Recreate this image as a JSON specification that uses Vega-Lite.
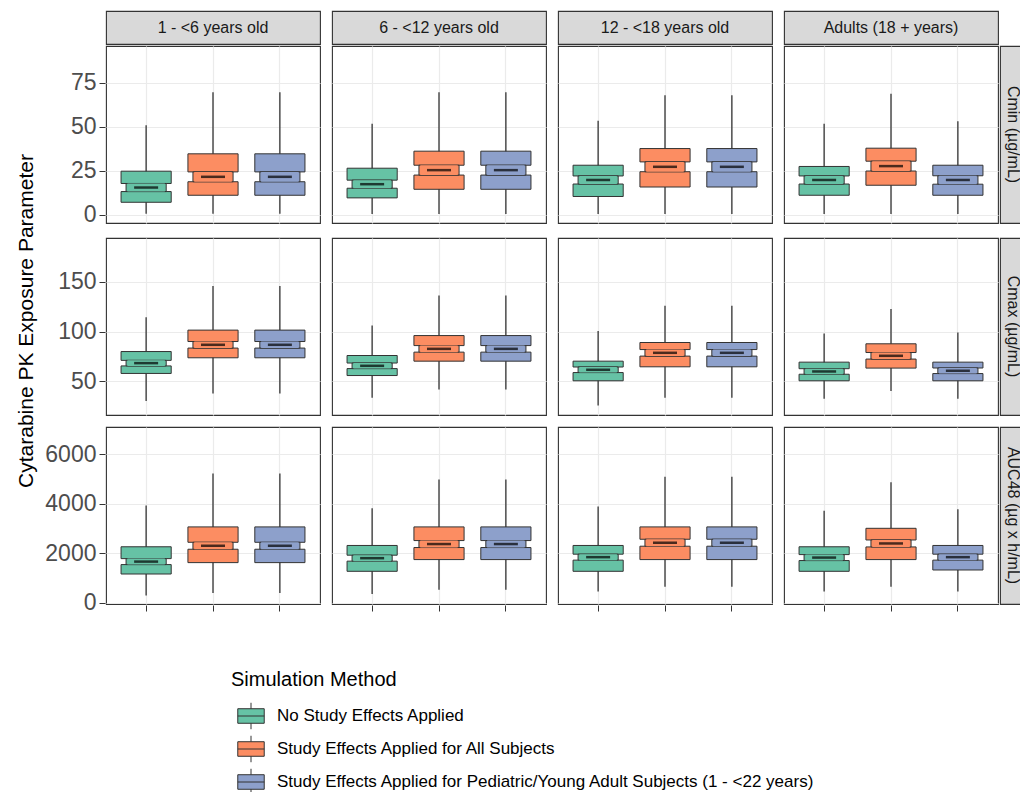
{
  "$schema": "https://vega.github.io/schema/vega-lite/v6.json",
  "padding": {"left": 15, "top": 10, "right": 0, "bottom": 0},
  "background": "white",
  "config": {
    "font": "Liberation Sans",
    "view": {"stroke": "#333333", "strokeWidth": 1.1},
    "axis": {"domain": false, "gridColor": "#EBEBEB", "labelOverlap": false}
  },
  "datasets": {
    "box": [
      {"param": "Cmin", "age": "1 - <6 years old", "method": "No Study Effects Applied", "lo": 0.5, "q1": 7, "nlo": 13.1, "med": 15.4, "nhi": 17.7, "q3": 24.7, "hi": 50.8},
      {"param": "Cmin", "age": "1 - <6 years old", "method": "Study Effects Applied for All Subjects", "lo": 0.5, "q1": 11, "nlo": 18.7, "med": 21.5, "nhi": 24.3, "q3": 34.6, "hi": 69.6},
      {"param": "Cmin", "age": "1 - <6 years old", "method": "Study Effects Applied for Pediatric/Young Adult Subjects (1 - <22 years)", "lo": 0.5, "q1": 11, "nlo": 18.7, "med": 21.5, "nhi": 24.3, "q3": 34.6, "hi": 69.6},
      {"param": "Cmin", "age": "6 - <12 years old", "method": "No Study Effects Applied", "lo": 0.3, "q1": 9.5, "nlo": 15.0, "med": 17.3, "nhi": 19.6, "q3": 26.4, "hi": 51.7},
      {"param": "Cmin", "age": "6 - <12 years old", "method": "Study Effects Applied for All Subjects", "lo": 0.3, "q1": 14.4, "nlo": 22.5, "med": 25.3, "nhi": 28.1, "q3": 36.1, "hi": 69.6},
      {"param": "Cmin", "age": "6 - <12 years old", "method": "Study Effects Applied for Pediatric/Young Adult Subjects (1 - <22 years)", "lo": 0.3, "q1": 14.4, "nlo": 22.5, "med": 25.3, "nhi": 28.1, "q3": 36.1, "hi": 69.6},
      {"param": "Cmin", "age": "12 - <18 years old", "method": "No Study Effects Applied", "lo": 0.3, "q1": 10.3, "nlo": 17.4, "med": 19.7, "nhi": 22.0, "q3": 28.1, "hi": 53.4},
      {"param": "Cmin", "age": "12 - <18 years old", "method": "Study Effects Applied for All Subjects", "lo": 0.3, "q1": 15.7, "nlo": 24.4, "med": 27.2, "nhi": 30.0, "q3": 37.6, "hi": 67.9},
      {"param": "Cmin", "age": "12 - <18 years old", "method": "Study Effects Applied for Pediatric/Young Adult Subjects (1 - <22 years)", "lo": 0.3, "q1": 15.7, "nlo": 24.4, "med": 27.2, "nhi": 30.0, "q3": 37.6, "hi": 67.9},
      {"param": "Cmin", "age": "Adults (18 + years)", "method": "No Study Effects Applied", "lo": 0.3, "q1": 11, "nlo": 17.4, "med": 19.7, "nhi": 22.0, "q3": 27.4, "hi": 51.7},
      {"param": "Cmin", "age": "Adults (18 + years)", "method": "Study Effects Applied for All Subjects", "lo": 0.3, "q1": 16.7, "nlo": 24.8, "med": 27.6, "nhi": 30.4, "q3": 37.8, "hi": 68.8},
      {"param": "Cmin", "age": "Adults (18 + years)", "method": "Study Effects Applied for Pediatric/Young Adult Subjects (1 - <22 years)", "lo": 0.3, "q1": 11, "nlo": 17.3, "med": 19.7, "nhi": 22.1, "q3": 28.1, "hi": 53.2},
      {"param": "Cmax", "age": "1 - <6 years old", "method": "No Study Effects Applied", "lo": 29.9, "q1": 57.7, "nlo": 65.3, "med": 68.1, "nhi": 70.9, "q3": 79.8, "hi": 114.4},
      {"param": "Cmax", "age": "1 - <6 years old", "method": "Study Effects Applied for All Subjects", "lo": 37.5, "q1": 73.5, "nlo": 83.3, "med": 86.6, "nhi": 89.9, "q3": 101.4, "hi": 146},
      {"param": "Cmax", "age": "1 - <6 years old", "method": "Study Effects Applied for Pediatric/Young Adult Subjects (1 - <22 years)", "lo": 37.5, "q1": 73.5, "nlo": 83.3, "med": 86.6, "nhi": 89.9, "q3": 101.4, "hi": 146},
      {"param": "Cmax", "age": "6 - <12 years old", "method": "No Study Effects Applied", "lo": 33.2, "q1": 55.6, "nlo": 62.6, "med": 65.4, "nhi": 68.2, "q3": 75.8, "hi": 106},
      {"param": "Cmax", "age": "6 - <12 years old", "method": "Study Effects Applied for All Subjects", "lo": 41.5, "q1": 70.1, "nlo": 79.2, "med": 82.5, "nhi": 85.8, "q3": 95.9, "hi": 136.2},
      {"param": "Cmax", "age": "6 - <12 years old", "method": "Study Effects Applied for Pediatric/Young Adult Subjects (1 - <22 years)", "lo": 41.5, "q1": 70.1, "nlo": 79.2, "med": 82.5, "nhi": 85.8, "q3": 95.9, "hi": 136.2},
      {"param": "Cmax", "age": "12 - <18 years old", "method": "No Study Effects Applied", "lo": 25.4, "q1": 50.3, "nlo": 58.6, "med": 61.4, "nhi": 64.2, "q3": 70.1, "hi": 100.4},
      {"param": "Cmax", "age": "12 - <18 years old", "method": "Study Effects Applied for All Subjects", "lo": 33.2, "q1": 64.4, "nlo": 75.2, "med": 78.5, "nhi": 81.8, "q3": 88.9, "hi": 126.1},
      {"param": "Cmax", "age": "12 - <18 years old", "method": "Study Effects Applied for Pediatric/Young Adult Subjects (1 - <22 years)", "lo": 33.2, "q1": 64.4, "nlo": 75.2, "med": 78.5, "nhi": 81.8, "q3": 88.9, "hi": 126.1},
      {"param": "Cmax", "age": "Adults (18 + years)", "method": "No Study Effects Applied", "lo": 32.2, "q1": 50.3, "nlo": 56.9, "med": 59.7, "nhi": 62.5, "q3": 69.1, "hi": 97.9},
      {"param": "Cmax", "age": "Adults (18 + years)", "method": "Study Effects Applied for All Subjects", "lo": 39.9, "q1": 63.1, "nlo": 72.2, "med": 75.5, "nhi": 78.8, "q3": 87.6, "hi": 122.8},
      {"param": "Cmax", "age": "Adults (18 + years)", "method": "Study Effects Applied for Pediatric/Young Adult Subjects (1 - <22 years)", "lo": 32.2, "q1": 50.3, "nlo": 57.6, "med": 60.4, "nhi": 63.2, "q3": 69.1, "hi": 98.9},
      {"param": "AUC", "age": "1 - <6 years old", "method": "No Study Effects Applied", "lo": 300, "q1": 1167, "nlo": 1547, "med": 1667, "nhi": 1787, "q3": 2264, "hi": 3931},
      {"param": "AUC", "age": "1 - <6 years old", "method": "Study Effects Applied for All Subjects", "lo": 407, "q1": 1626, "nlo": 2165, "med": 2305, "nhi": 2445, "q3": 3065, "hi": 5220},
      {"param": "AUC", "age": "1 - <6 years old", "method": "Study Effects Applied for Pediatric/Young Adult Subjects (1 - <22 years)", "lo": 407, "q1": 1626, "nlo": 2165, "med": 2305, "nhi": 2445, "q3": 3065, "hi": 5220},
      {"param": "AUC", "age": "6 - <12 years old", "method": "No Study Effects Applied", "lo": 366, "q1": 1276, "nlo": 1685, "med": 1805, "nhi": 1925, "q3": 2317, "hi": 3821},
      {"param": "AUC", "age": "6 - <12 years old", "method": "Study Effects Applied for All Subjects", "lo": 528, "q1": 1748, "nlo": 2234, "med": 2374, "nhi": 2514, "q3": 3065, "hi": 4976},
      {"param": "AUC", "age": "6 - <12 years old", "method": "Study Effects Applied for Pediatric/Young Adult Subjects (1 - <22 years)", "lo": 528, "q1": 1748, "nlo": 2234, "med": 2374, "nhi": 2514, "q3": 3065, "hi": 4976},
      {"param": "AUC", "age": "12 - <18 years old", "method": "No Study Effects Applied", "lo": 463, "q1": 1276, "nlo": 1726, "med": 1846, "nhi": 1966, "q3": 2317, "hi": 3890},
      {"param": "AUC", "age": "12 - <18 years old", "method": "Study Effects Applied for All Subjects", "lo": 650, "q1": 1748, "nlo": 2287, "med": 2427, "nhi": 2567, "q3": 3065, "hi": 5081},
      {"param": "AUC", "age": "12 - <18 years old", "method": "Study Effects Applied for Pediatric/Young Adult Subjects (1 - <22 years)", "lo": 650, "q1": 1748, "nlo": 2287, "med": 2427, "nhi": 2567, "q3": 3065, "hi": 5081},
      {"param": "AUC", "age": "Adults (18 + years)", "method": "No Study Effects Applied", "lo": 463, "q1": 1276, "nlo": 1709, "med": 1829, "nhi": 1949, "q3": 2264, "hi": 3715},
      {"param": "AUC", "age": "Adults (18 + years)", "method": "Study Effects Applied for All Subjects", "lo": 650, "q1": 1748, "nlo": 2258, "med": 2398, "nhi": 2538, "q3": 3008, "hi": 4866},
      {"param": "AUC", "age": "Adults (18 + years)", "method": "Study Effects Applied for Pediatric/Young Adult Subjects (1 - <22 years)", "lo": 463, "q1": 1329, "nlo": 1726, "med": 1846, "nhi": 1966, "q3": 2317, "hi": 3780}
    ]
  },
  "spacing": 6,
  "hconcat": [
    {
      "width": 22, "height": 620,
      "data": {"values": [{"label": "Cytarabine PK Exposure Parameter"}]},
      "view": {"stroke": null, "fill": null},
      "mark": {"type": "text", "angle": 270, "fontSize": 21, "color": "#000000"},
      "encoding": {"text": {"field": "label", "type": "nominal"}}
    },
    {
      "spacing": 10,
      "vconcat": [
        {
          "spacing": 0,
          "vconcat": [
            {
              "data": {"values": [{"age": "1 - <6 years old"}, {"age": "6 - <12 years old"}, {"age": "12 - <18 years old"}, {"age": "Adults (18 + years)"}]},
              "facet": {"column": {"field": "age", "type": "nominal", "sort": ["1 - <6 years old", "6 - <12 years old", "12 - <18 years old", "Adults (18 + years)"], "header": {"labels": false, "title": null}}},
              "spacing": 10,
              "spec": {
                "width": 214, "height": 33,
                "view": {"fill": "#D9D9D9", "stroke": "#333333", "strokeWidth": 1.1},
                "mark": {"type": "text", "fontSize": 16, "color": "#1A1A1A"},
                "encoding": {"text": {"field": "age", "type": "nominal"}}
              }
            },
            {
              "spacing": 0,
              "hconcat": [
                {
                  "data": {"name": "box"},
                  "transform": [{"filter": "datum.param === 'Cmin'"}],
                  "facet": {"column": {"field": "age", "type": "nominal", "sort": ["1 - <6 years old", "6 - <12 years old", "12 - <18 years old", "Adults (18 + years)"], "header": {"labels": false, "title": null}}},
                  "spacing": 10,
                  "spec": {
                    "width": 214, "height": 177,
                    "encoding": {"x": {"field": "method", "type": "nominal", "sort": ["No Study Effects Applied", "Study Effects Applied for All Subjects", "Study Effects Applied for Pediatric/Young Adult Subjects (1 - <22 years)"], "title": null, "scale": {"paddingInner": 0, "paddingOuter": 0.1}, "axis": {"labels": false, "ticks": false, "domain": false, "grid": true, "gridColor": "#EBEBEB", "gridWidth": 1.2, "bandPosition": 0.5, "title": null}}},
                    "layer": [
                      {"mark": {"type": "rule", "color": "#333333", "strokeWidth": 1.3},
                       "encoding": {"y": {"field": "lo", "type": "quantitative", "scale": {"domain": [-4.8, 96], "nice": false, "zero": false},
                         "axis": {"values": [0, 12.5, 25, 37.5, 50, 62.5, 75, 87.5], "labelExpr": "datum.value % 25 === 0 ? datum.label : ''", "labelOverlap": false, "tickOpacity": {"condition": {"test": "datum.value % 25 !== 0", "value": 0}, "value": 1}, "gridWidth": {"condition": {"test": "datum.value % 25 !== 0", "value": 0.6}, "value": 1.2}, "gridColor": "#EBEBEB", "grid": true, "tickColor": "#333333", "tickSize": 6, "labelFontSize": 23, "labelColor": "#4D4D4D", "labelPadding": 3, "title": null, "domain": false}},
                         "y2": {"field": "hi"}}},
                      {"mark": {"type": "bar", "width": {"band": 0.75}, "stroke": "#333333", "strokeWidth": 1},
                       "encoding": {"y": {"field": "q1", "type": "quantitative"}, "y2": {"field": "nlo"},
                         "color": {"field": "method", "type": "nominal", "scale": {"domain": ["No Study Effects Applied", "Study Effects Applied for All Subjects", "Study Effects Applied for Pediatric/Young Adult Subjects (1 - <22 years)"], "range": ["#66C2A5", "#FC8D62", "#8DA0CB"]},
                           "legend": {"orient": "none", "legendX": 215, "legendY": 659, "direction": "vertical", "title": "Simulation Method", "titleFontSize": 20, "titleFontWeight": "normal", "titleColor": "#000000", "titlePadding": 12, "labelFontSize": 17, "labelColor": "#000000", "labelLimit": 0, "labelOffset": 12, "symbolOffset": 6, "symbolType": "M-1,-0.55H1V0.55H-1Z M-1,0H1 M0,-0.55V-1 M0,0.55V1", "symbolSize": 700, "symbolStrokeColor": "#333333", "symbolStrokeWidth": 1, "symbolOpacity": 1, "rowPadding": 1}}}},
                      {"mark": {"type": "bar", "width": {"band": 0.75}, "stroke": "#333333", "strokeWidth": 1},
                       "encoding": {"y": {"field": "nhi", "type": "quantitative"}, "y2": {"field": "q3"}, "color": {"field": "method", "type": "nominal"}}},
                      {"mark": {"type": "bar", "width": {"band": 0.6}, "stroke": "#333333", "strokeWidth": 1},
                       "encoding": {"y": {"field": "nlo", "type": "quantitative"}, "y2": {"field": "nhi"}, "color": {"field": "method", "type": "nominal"}}},
                      {"mark": {"type": "bar", "width": {"band": 0.56}, "strokeWidth": 0},
                       "encoding": {"y": {"field": "nlo", "type": "quantitative"}, "y2": {"field": "nhi"}, "color": {"field": "method", "type": "nominal"}}},
                      {"mark": {"type": "tick", "color": "#000000", "thickness": 2.5, "size": 24},
                       "encoding": {"y": {"field": "med", "type": "quantitative"}}}
                    ]
                  }
                },
                {
                  "width": 25, "height": 177,
                  "data": {"values": [{"label": "Cmin (µg/mL)"}]},
                  "view": {"fill": "#D9D9D9", "stroke": "#333333", "strokeWidth": 1.1},
                  "mark": {"type": "text", "angle": 90, "fontSize": 16, "color": "#1A1A1A"},
                  "encoding": {"text": {"field": "label", "type": "nominal"}}
                }
              ]
            }
          ]
        },
        {
          "spacing": 0,
          "hconcat": [
            {
              "data": {"name": "box"},
              "transform": [{"filter": "datum.param === 'Cmax'"}],
              "facet": {"column": {"field": "age", "type": "nominal", "sort": ["1 - <6 years old", "6 - <12 years old", "12 - <18 years old", "Adults (18 + years)"], "header": {"labels": false, "title": null}}},
              "spacing": 10,
              "spec": {
                "width": 214, "height": 177,
                "encoding": {"x": {"field": "method", "type": "nominal", "sort": ["No Study Effects Applied", "Study Effects Applied for All Subjects", "Study Effects Applied for Pediatric/Young Adult Subjects (1 - <22 years)"], "title": null, "scale": {"paddingInner": 0, "paddingOuter": 0.1}, "axis": {"labels": false, "ticks": false, "domain": false, "grid": true, "gridColor": "#EBEBEB", "gridWidth": 1.2, "bandPosition": 0.5, "title": null}}},
                "layer": [
                  {"mark": {"type": "rule", "color": "#333333", "strokeWidth": 1.3},
                   "encoding": {"y": {"field": "lo", "type": "quantitative", "scale": {"domain": [15.8, 194.3], "nice": false, "zero": false},
                     "axis": {"values": [50, 100, 150], "labelOverlap": false, "gridColor": "#EBEBEB", "gridWidth": 1.2, "grid": true, "ticks": true, "tickColor": "#333333", "tickSize": 6, "labelFontSize": 23, "labelColor": "#4D4D4D", "labelPadding": 3, "title": null, "domain": false}},
                     "y2": {"field": "hi"}}},
                  {"mark": {"type": "bar", "width": {"band": 0.75}, "stroke": "#333333", "strokeWidth": 1},
                   "encoding": {"y": {"field": "q1", "type": "quantitative"}, "y2": {"field": "nlo"}, "color": {"field": "method", "type": "nominal"}}},
                  {"mark": {"type": "bar", "width": {"band": 0.75}, "stroke": "#333333", "strokeWidth": 1},
                   "encoding": {"y": {"field": "nhi", "type": "quantitative"}, "y2": {"field": "q3"}, "color": {"field": "method", "type": "nominal"}}},
                  {"mark": {"type": "bar", "width": {"band": 0.6}, "stroke": "#333333", "strokeWidth": 1},
                   "encoding": {"y": {"field": "nlo", "type": "quantitative"}, "y2": {"field": "nhi"}, "color": {"field": "method", "type": "nominal"}}},
                  {"mark": {"type": "bar", "width": {"band": 0.56}, "strokeWidth": 0},
                   "encoding": {"y": {"field": "nlo", "type": "quantitative"}, "y2": {"field": "nhi"}, "color": {"field": "method", "type": "nominal"}}},
                  {"mark": {"type": "tick", "color": "#000000", "thickness": 2.5, "size": 24},
                   "encoding": {"y": {"field": "med", "type": "quantitative"}}}
                ]
              }
            },
            {
              "width": 25, "height": 177,
              "data": {"values": [{"label": "Cmax (µg/mL)"}]},
              "view": {"fill": "#D9D9D9", "stroke": "#333333", "strokeWidth": 1.1},
              "mark": {"type": "text", "angle": 90, "fontSize": 16, "color": "#1A1A1A"},
              "encoding": {"text": {"field": "label", "type": "nominal"}}
            }
          ]
        },
        {
          "spacing": 0,
          "hconcat": [
            {
              "data": {"name": "box"},
              "transform": [{"filter": "datum.param === 'AUC'"}],
              "facet": {"column": {"field": "age", "type": "nominal", "sort": ["1 - <6 years old", "6 - <12 years old", "12 - <18 years old", "Adults (18 + years)"], "header": {"labels": false, "title": null}}},
              "spacing": 10,
              "spec": {
                "width": 214, "height": 177,
                "encoding": {"x": {"field": "method", "type": "nominal", "sort": ["No Study Effects Applied", "Study Effects Applied for All Subjects", "Study Effects Applied for Pediatric/Young Adult Subjects (1 - <22 years)"], "title": null, "scale": {"paddingInner": 0, "paddingOuter": 0.1}, "axis": {"labels": false, "ticks": true, "tickColor": "#333333", "tickSize": 6, "tickWidth": 1, "domain": false, "grid": true, "gridColor": "#EBEBEB", "gridWidth": 1.2, "bandPosition": 0.5, "title": null}}},
                "layer": [
                  {"mark": {"type": "rule", "color": "#333333", "strokeWidth": 1.3},
                   "encoding": {"y": {"field": "lo", "type": "quantitative", "scale": {"domain": [-41, 7089], "nice": false, "zero": false},
                     "axis": {"values": [0, 1000, 2000, 3000, 4000, 5000, 6000, 7000], "labelExpr": "datum.value % 2000 === 0 ? datum.label : ''", "labelOverlap": false, "format": "d", "tickOpacity": {"condition": {"test": "datum.value % 2000 !== 0", "value": 0}, "value": 1}, "gridWidth": {"condition": {"test": "datum.value % 2000 !== 0", "value": 0.6}, "value": 1.2}, "gridColor": "#EBEBEB", "grid": true, "tickColor": "#333333", "tickSize": 6, "labelFontSize": 23, "labelColor": "#4D4D4D", "labelPadding": 3, "title": null, "domain": false}},
                     "y2": {"field": "hi"}}},
                  {"mark": {"type": "bar", "width": {"band": 0.75}, "stroke": "#333333", "strokeWidth": 1},
                   "encoding": {"y": {"field": "q1", "type": "quantitative"}, "y2": {"field": "nlo"}, "color": {"field": "method", "type": "nominal"}}},
                  {"mark": {"type": "bar", "width": {"band": 0.75}, "stroke": "#333333", "strokeWidth": 1},
                   "encoding": {"y": {"field": "nhi", "type": "quantitative"}, "y2": {"field": "q3"}, "color": {"field": "method", "type": "nominal"}}},
                  {"mark": {"type": "bar", "width": {"band": 0.6}, "stroke": "#333333", "strokeWidth": 1},
                   "encoding": {"y": {"field": "nlo", "type": "quantitative"}, "y2": {"field": "nhi"}, "color": {"field": "method", "type": "nominal"}}},
                  {"mark": {"type": "bar", "width": {"band": 0.56}, "strokeWidth": 0},
                   "encoding": {"y": {"field": "nlo", "type": "quantitative"}, "y2": {"field": "nhi"}, "color": {"field": "method", "type": "nominal"}}},
                  {"mark": {"type": "tick", "color": "#000000", "thickness": 2.5, "size": 24},
                   "encoding": {"y": {"field": "med", "type": "quantitative"}}}
                ]
              }
            },
            {
              "width": 25, "height": 177,
              "data": {"values": [{"label": "AUC48 (µg x h/mL)"}]},
              "view": {"fill": "#D9D9D9", "stroke": "#333333", "strokeWidth": 1.1},
              "mark": {"type": "text", "angle": 90, "fontSize": 16, "color": "#1A1A1A"},
              "encoding": {"text": {"field": "label", "type": "nominal"}}
            }
          ]
        }
      ]
    }
  ]
}
